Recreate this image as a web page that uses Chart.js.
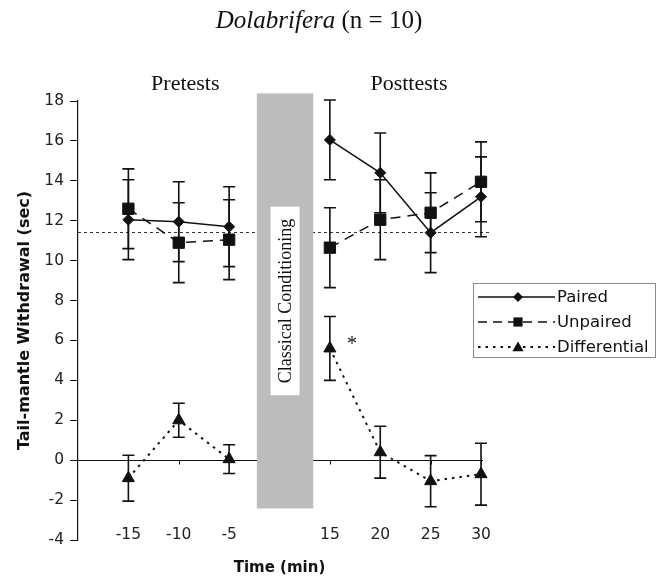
<!DOCTYPE html>
<html><head><meta charset="utf-8">
<script src="https://cdn.jsdelivr.net/npm/chart.js@4.4.0/dist/chart.umd.min.js"></script>
<style>html,body{margin:0;padding:0;background:#fff;} #wrap{width:662px;height:580px;position:relative;}</style>
</head><body><div id="wrap"><canvas id="c" width="662" height="580"></canvas></div>
<script>
// ---- data ----
const timeLabels   = ['', '-15', '-10', '-5', '', '15', '20', '25', '30'];
const pairedMean   = [null, 12.05, 11.95, 11.7, null, 16.05, 14.4, 11.4, 13.2];
const pairedSE     = [null, 2.0, 2.0, 2.0, null, 2.0, 2.0, 2.0, 2.0];
const unpairedMean = [null, 12.6, 10.9, 11.05, null, 10.65, 12.05, 12.4, 13.95];
const unpairedSE   = [null, 2.0, 2.0, 2.0, null, 2.0, 2.0, 2.0, 2.0];
const diffMean     = [null, -0.9, 2.0, 0.05, null, 5.6, 0.4, -1.05, -0.7];
const diffSE       = [null, 1.15, 0.85, 0.72, null, 1.6, 1.3, 1.28, 1.55];
const seriesNames  = ['Paired', 'Unpaired', 'Differential'];
const baselineMean = 11.45;
const yMin = -4, yMax = 18, yStep = 2;
const phaseLabels  = ['Pretests', 'Posttests'];
const significantIndex = 5; // Differential at 15 min marked with *

const INK = '#111';
const SANS = '"DejaVu Sans", Verdana, sans-serif';
const SERIF = '"Liberation Serif", "Times New Roman", serif';

function drawMarker(ctx, style, x, y, r) {
  ctx.beginPath();
  if (style === 'rectRot') {
    ctx.moveTo(x, y - r); ctx.lineTo(x + r, y); ctx.lineTo(x, y + r); ctx.lineTo(x - r, y);
  } else if (style === 'rect') {
    const s = r * Math.SQRT1_2;
    ctx.rect(x - s, y - s, 2 * s, 2 * s);
  } else {
    const h = r * Math.sqrt(3) / 2;
    ctx.moveTo(x, y - r); ctx.lineTo(x + h, y + r / 2); ctx.lineTo(x - h, y + r / 2);
  }
  ctx.closePath();
  ctx.fillStyle = INK; ctx.fill();
}

const errs = [pairedSE, unpairedSE, diffSE];

const decor = {
  id: 'decor',
  beforeDatasetsDraw(chart) {
    const {ctx, scales: {x, y}, chartArea} = chart;
    ctx.save();
    // baseline dotted line
    ctx.strokeStyle = '#333'; ctx.lineWidth = 1; ctx.setLineDash([3, 3]);
    const yb = Math.round(y.getPixelForValue(baselineMean)) + 0.5;
    ctx.beginPath(); ctx.moveTo(chartArea.left, yb); ctx.lineTo(x.getPixelForValue(8.18), yb); ctx.stroke();
    // zero line
    ctx.setLineDash([]); ctx.strokeStyle = INK; ctx.lineWidth = 1.2;
    const y0 = Math.round(y.getPixelForValue(0)) + 0.5;
    ctx.beginPath(); ctx.moveTo(chartArea.left, y0); ctx.lineTo(x.getPixelForValue(8.04), y0); ctx.stroke();
    ctx.lineWidth = 1;
    for (let i = 1; i < timeLabels.length; i++) {
      if (!timeLabels[i]) continue;
      const px = Math.round(x.getPixelForValue(i)) + 0.5;
      ctx.beginPath(); ctx.moveTo(px, y0); ctx.lineTo(px, y0 + 4); ctx.stroke();
    }
    // classical conditioning bar
    const bx1 = x.getPixelForValue(3.55), bx2 = x.getPixelForValue(4.67);
    const by1 = y.getPixelForValue(18.38), by2 = y.getPixelForValue(-2.42);
    ctx.fillStyle = '#bcbcbc';
    ctx.fillRect(bx1, by1, bx2 - bx1, by2 - by1);
    const cx = (bx1 + bx2) / 2, cy = y.getPixelForValue(7.98);
    ctx.font = '18px ' + SERIF;
    const tw = ctx.measureText('Classical Conditioning').width;
    ctx.fillStyle = '#fff';
    ctx.fillRect(cx - 14.5, cy - tw / 2 - 12, 29, tw + 24);
    ctx.translate(cx, cy); ctx.rotate(-Math.PI / 2);
    ctx.fillStyle = INK; ctx.textAlign = 'center'; ctx.textBaseline = 'middle';
    ctx.fillText('Classical Conditioning', 0, 1);
    ctx.setTransform(1, 0, 0, 1, 0, 0);
    ctx.restore();
    ctx.save();
    // error bars
    ctx.strokeStyle = INK; ctx.lineWidth = 1.6;
    chart.data.datasets.forEach((ds, di) => {
      const meta = chart.getDatasetMeta(di);
      ds.data.forEach((v, j) => {
        if (v === null) return;
        const e = errs[di][j];
        const px = meta.data[j].x;
        const t = y.getPixelForValue(v + e), b = y.getPixelForValue(v - e);
        ctx.beginPath();
        ctx.moveTo(px, t); ctx.lineTo(px, b);
        ctx.moveTo(px - 6, t); ctx.lineTo(px + 6, t);
        ctx.moveTo(px - 6, b); ctx.lineTo(px + 6, b);
        ctx.stroke();
      });
    });
    ctx.restore();
  },
  afterDraw(chart) {
    const {ctx, scales: {x, y}} = chart;
    ctx.save();
    // Title
    ctx.textBaseline = 'middle'; ctx.fillStyle = INK;
    const f1 = 'italic 25px ' + SERIF, f2 = '25px ' + SERIF;
    ctx.font = f1; const w1 = ctx.measureText('Dolabrifera').width;
    ctx.font = f2; const w2 = ctx.measureText(' (n = 10)').width;
    let tx = 319 - (w1 + w2) / 2;
    ctx.textAlign = 'left';
    ctx.font = f1; ctx.fillText('Dolabrifera', tx, 21);
    ctx.font = f2; ctx.fillText(' (n = 10)', tx + w1, 21);
    // Phase labels
    ctx.font = '22px ' + SERIF; ctx.textAlign = 'center';
    ctx.fillText(phaseLabels[0], x.getPixelForValue(2.13), 84);
    ctx.fillText(phaseLabels[1], x.getPixelForValue(6.57), 84);
    // asterisk
    const dm = chart.getDatasetMeta(2).data[significantIndex];
    ctx.font = '20px ' + SERIF;
    ctx.fillText('*', dm.x + 22, dm.y - 4);
    // Legend
    const lx = 473.5, ly = 283.5, lw = 182, lh = 74;
    ctx.strokeStyle = '#8a8a8a'; ctx.lineWidth = 1;
    ctx.strokeRect(lx, ly, lw, lh);
    const rows = [297, 322, 347];
    const styles = ['rectRot', 'rect', 'triangle'];
    const radii = [5.5, 8, 7];
    const dashes = [[], [9, 6], [2.5, 5]];
    ctx.font = '16.5px ' + SANS; ctx.textAlign = 'left';
    rows.forEach((ry, i) => {
      ctx.strokeStyle = INK; ctx.lineWidth = i === 2 ? 2 : 1.5;
      ctx.setLineDash(dashes[i]);
      ctx.beginPath(); ctx.moveTo(478, ry); ctx.lineTo(555, ry); ctx.stroke();
      ctx.setLineDash([]);
      drawMarker(ctx, styles[i], 518, i === 2 ? ry + 1 : ry, radii[i] - (i === 1 ? 1.5 : 0.5));
      ctx.fillStyle = INK;
      ctx.fillText(seriesNames[i], 557, ry + 1);
    });
    ctx.restore();
  }
};

new Chart(document.getElementById('c'), {
  type: 'line',
  data: {
    labels: timeLabels,
    datasets: [
      { label: seriesNames[0], data: pairedMean, borderColor: INK, backgroundColor: INK, borderWidth: 1.5,
        pointStyle: 'rectRot', pointRadius: 5.5, pointBorderWidth: 1, spanGaps: false },
      { label: seriesNames[1], data: unpairedMean, borderColor: INK, backgroundColor: INK, borderWidth: 1.5,
        borderDash: [10, 7], pointStyle: 'rect', pointRadius: 8, pointBorderWidth: 1, spanGaps: false },
      { label: seriesNames[2], data: diffMean, borderColor: INK, backgroundColor: INK, borderWidth: 2,
        borderDash: [2.5, 5], pointStyle: 'triangle', pointRadius: 7, pointBorderWidth: 1, spanGaps: false }
    ]
  },
  options: {
    responsive: false, animation: false, devicePixelRatio: 1,
    layout: { padding: { left: 0, right: 181, top: 101, bottom: 0 } },
    plugins: { legend: { display: false }, tooltip: { enabled: false } },
    elements: { line: { tension: 0 } },
    scales: {
      x: {
        type: 'category', offset: false,
        grid: { display: false, drawTicks: false }, border: { display: false },
        ticks: { autoSkip: false, maxRotation: 0, mirror: true, padding: -4.5, color: '#222', font: { family: SANS, size: 15.5 } },
        title: { display: true, text: 'Time (min)', color: INK, font: { family: SANS, size: 15, weight: 'bold' }, padding: { top: 0, bottom: 3 } },
        afterFit: s => { s.height = 40; }
      },
      y: {
        min: yMin, max: yMax,
        ticks: { stepSize: yStep, padding: 6, color: '#222', font: { family: SANS, size: 15.5 } },
        grid: { display: true, drawOnChartArea: false, drawTicks: true, tickLength: 8, color: INK },
        border: { display: true, color: INK, width: 1.2 },
        title: { display: true, text: 'Tail-mantle Withdrawal (sec)', color: INK, font: { family: SANS, size: 16, weight: 'bold' }, padding: { top: 15, bottom: 0 } },
        afterFit: s => { s.width = 78; }
      }
    }
  },
  plugins: [decor]
});
</script>
</body></html>
